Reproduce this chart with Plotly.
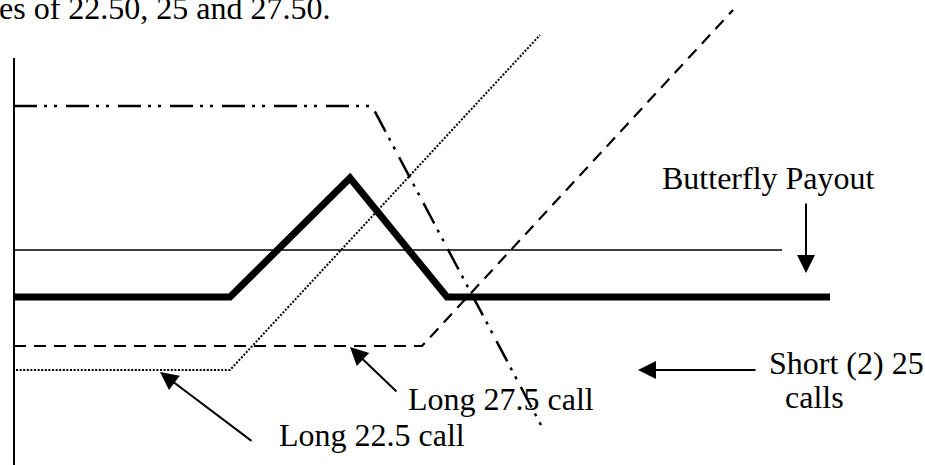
import plotly.graph_objects as go

# Coordinate frame: horizontal = underlying price axis units, vertical = payoff units (up positive)
axis_x = [14, 14]
axis_y = [407, 0]

zero_x = [14, 782]
zero_y = [215, 215]

butterfly_x = [14, 230, 350, 447, 830]
butterfly_y = [168, 168, 287, 168, 168]

short25_x = [14, 372, 542]
short25_y = [359, 359, 38]

long225_x = [16, 230, 540]
long225_y = [95, 95, 430]

long275_x = [14, 422, 733]
long275_y = [119, 119, 455]

# label texts and anchors
labels = ["Butterfly Payout", "Short (2) 25", "calls", "Long 27.5 call", "Long 22.5 call"]
label_x = [768, 767, 783, 406, 277]
label_y = [287.5, 102.5, 68.5, 66.5, 30.5]
label_anchor = ["center", "left", "left", "left", "left"]

# arrows: tail -> head
arrow_tail_x = [806, 757, 398, 253]
arrow_tail_y = [263, 95, 72, 23]
arrow_head_x = [806, 638, 350, 160]
arrow_head_y = [192, 95, 118, 93]

top_text = "es of 22.50, 25 and 27.50."

FONT = "Liberation Serif"

fig = go.Figure()

def add_line(x, y, width, dash="solid"):
    fig.add_trace(go.Scatter(x=x, y=y, mode="lines",
                             line=dict(color="black", width=width, dash=dash),
                             hoverinfo="skip", showlegend=False))

add_line(axis_x, axis_y, 2)
add_line(zero_x, zero_y, 1.5)
add_line(short25_x, short25_y, 2.5, "23px,7px,3px,7px,3px,9px")
add_line(long275_x, long275_y, 2.2, "12px,8px")
add_line(long225_x, long225_y, 2, "2px,1.6px")
add_line(butterfly_x, butterfly_y, 7)

annotations = []
for t, x, y, a in zip(labels, label_x, label_y, label_anchor):
    annotations.append(dict(x=x, y=y, xref="x", yref="y", text=t, showarrow=False,
                            xanchor=a, yanchor="middle",
                            font=dict(family=FONT, size=32, color="black")))
for tx, ty, hx, hy in zip(arrow_tail_x, arrow_tail_y, arrow_head_x, arrow_head_y):
    annotations.append(dict(x=hx, y=hy, ax=tx, ay=ty, xref="x", yref="y",
                            axref="x", ayref="y", text="", showarrow=True,
                            arrowhead=2, arrowsize=1.8, arrowwidth=2,
                            arrowcolor="black", standoff=0, startstandoff=0))
annotations.append(dict(x=0, y=457.5, xref="x", yref="y", text=top_text, showarrow=False,
                        xanchor="left", yanchor="middle", xshift=-3,
                        font=dict(family=FONT, size=32, color="black")))

fig.update_layout(
    width=925, height=465,
    margin=dict(l=0, r=0, t=0, b=0),
    paper_bgcolor="white", plot_bgcolor="white",
    xaxis=dict(range=[0, 925], visible=False, fixedrange=True),
    yaxis=dict(range=[0, 465], visible=False, fixedrange=True),
    annotations=annotations,
    showlegend=False,
)

fig.write_html("out.html", config={"displayModeBar": False},
               post_script="document.body.style.margin='0px';document.body.style.overflow='hidden';")
